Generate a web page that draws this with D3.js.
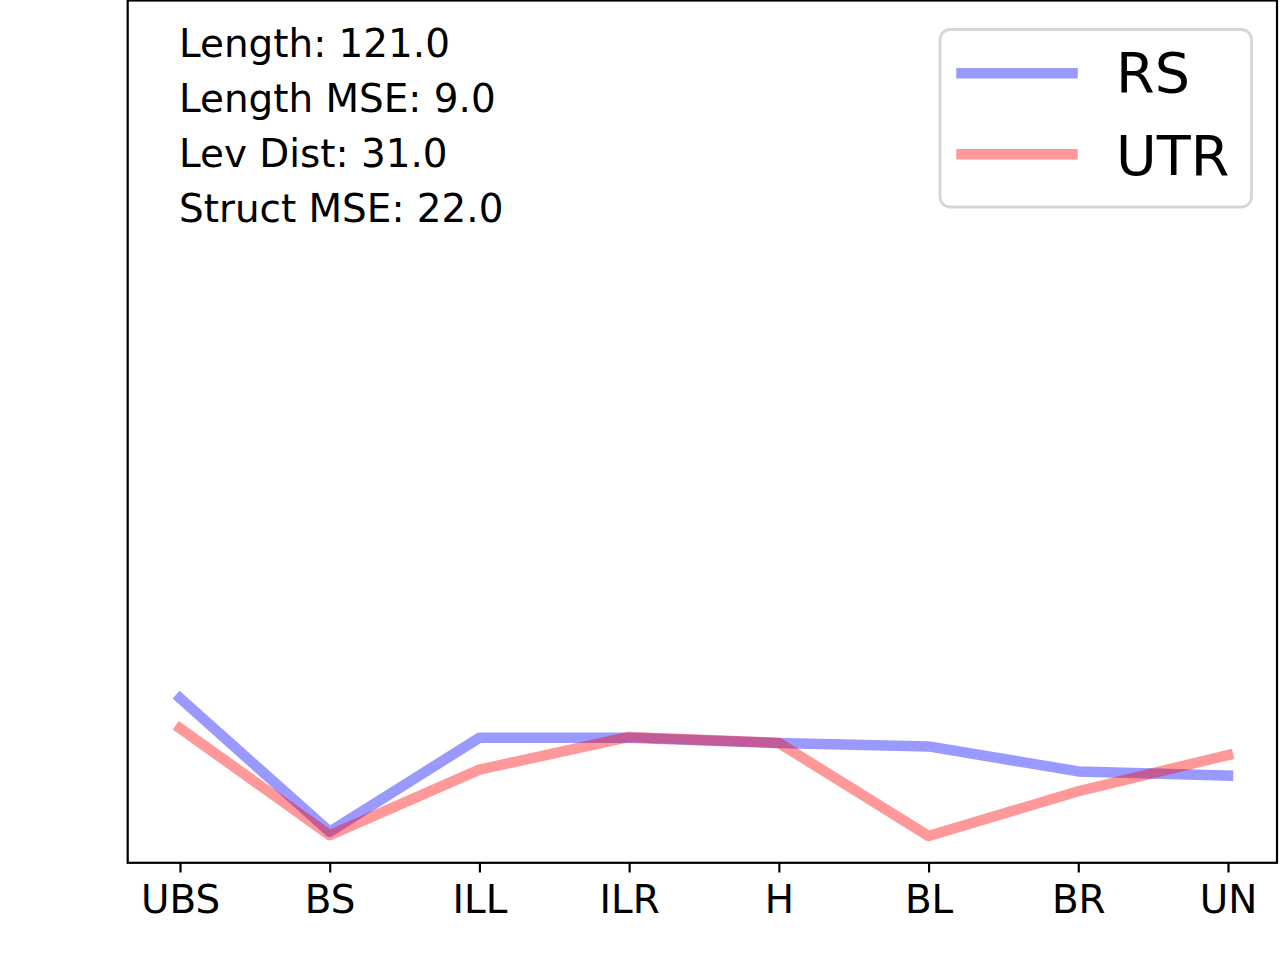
<!DOCTYPE html>
<html>
<head>
<meta charset="utf-8">
<script src="https://cdn.jsdelivr.net/npm/d3@7"></script>
<style>
  html, body { margin: 0; padding: 0; background: #fff; }
  svg { display: block; font-family: "DejaVu Sans", sans-serif; }
</style>
</head>
<body>
<svg id="chart" width="1280" height="960"></svg>
<script>
// ---- data ----
const categories = ["UBS", "BS", "ILL", "ILR", "H", "BL", "BR", "UN"];
const rsValues  = [19.1, 3.6, 14.5, 14.5, 13.9, 13.5, 10.6, 10.1];
const utrValues = [15.6, 3.2, 10.8, 14.6, 13.9, 3.1, 8.3, 12.5];
const seriesNames = ["RS", "UTR"];
const seriesColors = ["#0000ff", "#ff0000"];
const annotations = ["Length: 121.0", "Length MSE: 9.0", "Lev Dist: 31.0", "Struct MSE: 22.0"];

// ---- layout ----
const svg = d3.select("#chart");
const axL = 127.7, axR = 1277, axT = 0.5, axB = 862.8;

const x = d3.scaleLinear().domain([0, categories.length - 1]).range([180, 1228]);
const y = d3.scaleLinear().domain([0, 100]).range([axB, axT]);

svg.append("rect").attr("width", 1280).attr("height", 960).attr("fill", "#fff");

// lines
const line = d3.line().x((d, i) => x(i)).y(d => y(d));
[rsValues, utrValues].forEach((vals, k) => {
  svg.append("path")
    .datum(vals)
    .attr("d", line)
    .attr("fill", "none")
    .attr("stroke", seriesColors[k])
    .attr("stroke-opacity", 0.4)
    .attr("stroke-width", 10.5)
    .attr("stroke-linejoin", "round")
    .attr("stroke-linecap", "square");
});

// frame (spines)
svg.append("rect")
  .attr("x", axL).attr("y", axT)
  .attr("width", axR - axL).attr("height", axB - axT)
  .attr("fill", "none").attr("stroke", "#000").attr("stroke-width", 2.2);

// x axis
const xAxis = d3.axisBottom(x)
  .tickValues(d3.range(categories.length))
  .tickFormat(i => categories[i])
  .tickSize(9.7)
  .tickPadding(13.2);
const gx = svg.append("g").attr("transform", `translate(0,${axB})`).call(xAxis);
gx.select(".domain").remove();
gx.selectAll(".tick line").attr("stroke", "#000").attr("stroke-width", 2.2);
gx.selectAll(".tick text")
  .attr("font-size", 38.9)
  .attr("fill", "#000")
  .attr("font-family", "DejaVu Sans, sans-serif");

// annotations
const ann = svg.append("g");
annotations.forEach((t, i) => {
  ann.append("text")
    .attr("x", 179)
    .attr("y", 56.7 + i * 55)
    .attr("font-size", 38.9)
    .attr("fill", "#000")
    .text(t);
});

// legend
const lg = svg.append("g");
lg.append("rect")
  .attr("x", 940).attr("y", 29.5)
  .attr("width", 311.5).attr("height", 177.5)
  .attr("rx", 10).attr("ry", 10)
  .attr("fill", "#fff").attr("fill-opacity", 0.8)
  .attr("stroke", "#d6d6d6").attr("stroke-width", 2.8);
const handleY = [73.3, 154.3];
const textY = [91.7, 175];
seriesNames.forEach((name, k) => {
  lg.append("line")
    .attr("x1", 961.5).attr("x2", 1072.5)
    .attr("y1", handleY[k]).attr("y2", handleY[k])
    .attr("stroke", seriesColors[k])
    .attr("stroke-opacity", 0.4)
    .attr("stroke-width", 10.5)
    .attr("stroke-linecap", "square");
  lg.append("text")
    .attr("x", 1116)
    .attr("y", textY[k])
    .attr("font-size", 55.6)
    .attr("fill", "#000")
    .text(name);
});
</script>
</body>
</html>
